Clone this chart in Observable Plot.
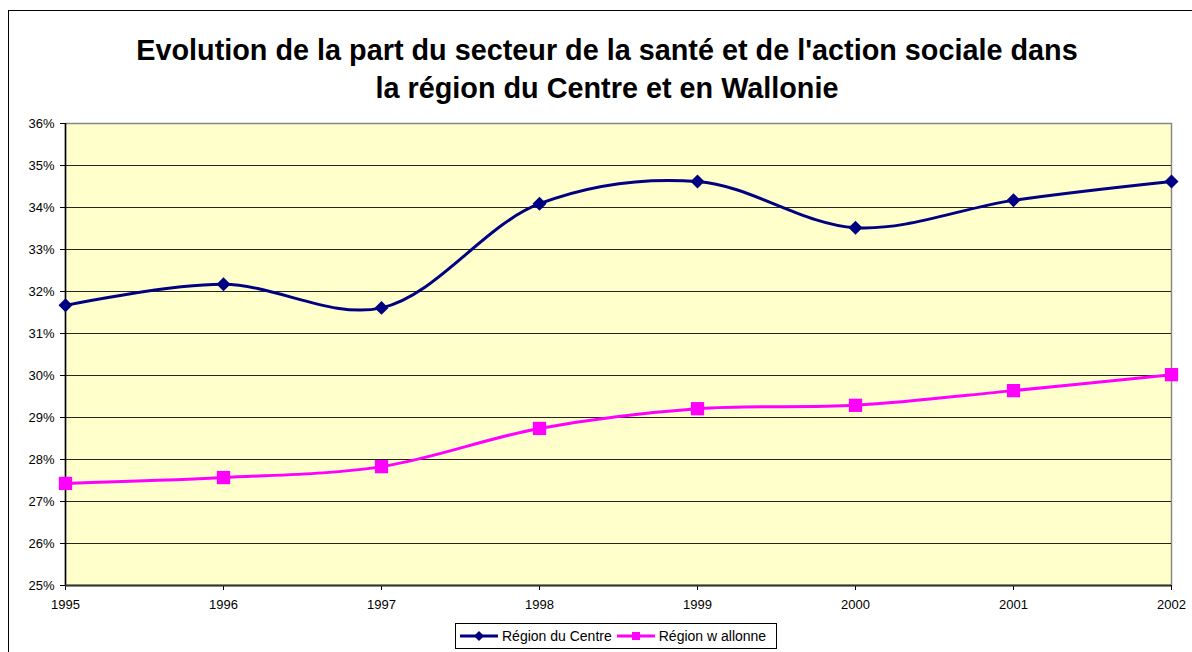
<!DOCTYPE html>
<html>
<head>
<meta charset="utf-8">
<script src="https://cdn.jsdelivr.net/npm/d3@7"></script>
<script src="https://cdn.jsdelivr.net/npm/@observablehq/plot@0.6"></script>
<style>
  html, body { margin: 0; padding: 0; background: #fff; }
  body { width: 1192px; height: 652px; overflow: hidden; position: relative; font-family: "Liberation Sans", Arial, sans-serif; }
  #border { position: absolute; left: 8px; top: 10px; width: 1300px; height: 800px; border: 1px solid #000; box-sizing: border-box; }
  #title { position: absolute; left: 0; width: 1214px; top: 31px; text-align: center; font-weight: bold; font-size: 28.8px; line-height: 38px; color: #000; }
  #chart { position: absolute; left: 0; top: 0; }
  #legend { position: absolute; left: 455px; top: 623px; width: 322px; height: 26px; border: 1px solid #000; box-sizing: border-box; background: #fff; font-size: 14px; display: flex; align-items: center; padding-left: 3px; white-space: nowrap; }
  .item { display: flex; align-items: center; margin-right: 4px; }
  .item svg { margin-right: 3px; }
</style>
</head>
<body>
<div id="border"></div>
<div id="title">Evolution de la part du secteur de la santé et de l'action sociale dans<br>la région du Centre et en Wallonie</div>
<div id="chart"></div>
<div id="legend"></div>
<script>
const years = [1995, 1996, 1997, 1998, 1999, 2000, 2001, 2002];
const centre = [0.3167, 0.3217, 0.3161, 0.3409, 0.3462, 0.3352, 0.3417, 0.3462];
const wallonne = [0.2743, 0.2757, 0.2783, 0.2874, 0.2921, 0.2929, 0.2964, 0.3002];
const seriesNames = ["Région du Centre", "Région w allonne"];
const seriesColors = ["#000080", "#FF00FF"];
const yTicks = [0.25, 0.26, 0.27, 0.28, 0.29, 0.30, 0.31, 0.32, 0.33, 0.34, 0.35, 0.36];

const dCentre = years.map((y, i) => ({year: y, value: centre[i]}));
const dWall = years.map((y, i) => ({year: y, value: wallonne[i]}));

const chart = Plot.plot({
  width: 1192,
  height: 652,
  marginLeft: 65,
  marginRight: 21,
  marginTop: 123,
  marginBottom: 67,
  style: {fontFamily: "'Liberation Sans', Arial, sans-serif", fontSize: "13px", color: "#000", background: "transparent"},
  x: {domain: [1995, 2002]},
  y: {domain: [0.25, 0.36]},
  marks: [
    Plot.frame({fill: "#FFFFCC", stroke: "#888888", strokeWidth: 1.5}),
    Plot.gridY(yTicks.slice(1, -1), {stroke: "#000", strokeOpacity: 0.85, strokeWidth: 1}),
    Plot.axisY(yTicks, {tickFormat: d3.format(".0%"), tickSize: 5, tickPadding: 6, label: null, fontSize: 13, stroke: "#000"}),
    Plot.axisX(years, {tickFormat: d => String(d), tickSize: 5, tickPadding: 9, label: null, fontSize: 13, stroke: "#000"}),
    Plot.ruleX([1995], {stroke: "#000", strokeWidth: 1.5}),
    Plot.ruleY([0.25], {stroke: "#333", strokeWidth: 2}),
    Plot.line(dCentre, {x: "year", y: "value", stroke: seriesColors[0], strokeWidth: 3, curve: "catmull-rom"}),
    Plot.line(dWall, {x: "year", y: "value", stroke: seriesColors[1], strokeWidth: 3, curve: "catmull-rom"}),
    Plot.dot(dCentre, {x: "year", y: "value", symbol: "diamond2", r: 6.3, fill: seriesColors[0], stroke: "none"}),
    Plot.dot(dWall, {x: "year", y: "value", symbol: "square", r: 7.5, fill: seriesColors[1], stroke: "none"})
  ]
});
document.getElementById("chart").appendChild(chart);

const legend = document.getElementById("legend");
const symbols = ["diamond", "square"];
seriesNames.forEach((name, i) => {
  const item = document.createElement("div");
  item.className = "item";
  const ns = "http://www.w3.org/2000/svg";
  const svg = document.createElementNS(ns, "svg");
  svg.setAttribute("width", 40);
  svg.setAttribute("height", 14);
  const ln = document.createElementNS(ns, "line");
  ln.setAttribute("x1", 1); ln.setAttribute("x2", 39); ln.setAttribute("y1", 7); ln.setAttribute("y2", 7);
  ln.setAttribute("stroke", seriesColors[i]); ln.setAttribute("stroke-width", 3);
  svg.appendChild(ln);
  if (symbols[i] === "diamond") {
    const p = document.createElementNS(ns, "path");
    p.setAttribute("d", "M20,2 L25,7 L20,12 L15,7 Z");
    p.setAttribute("fill", seriesColors[i]);
    svg.appendChild(p);
  } else {
    const r = document.createElementNS(ns, "rect");
    r.setAttribute("x", 16); r.setAttribute("y", 3); r.setAttribute("width", 8); r.setAttribute("height", 8);
    r.setAttribute("fill", seriesColors[i]);
    svg.appendChild(r);
  }
  item.appendChild(svg);
  const t = document.createElement("span");
  t.textContent = name;
  item.appendChild(t);
  legend.appendChild(item);
});
</script>
</body>
</html>
